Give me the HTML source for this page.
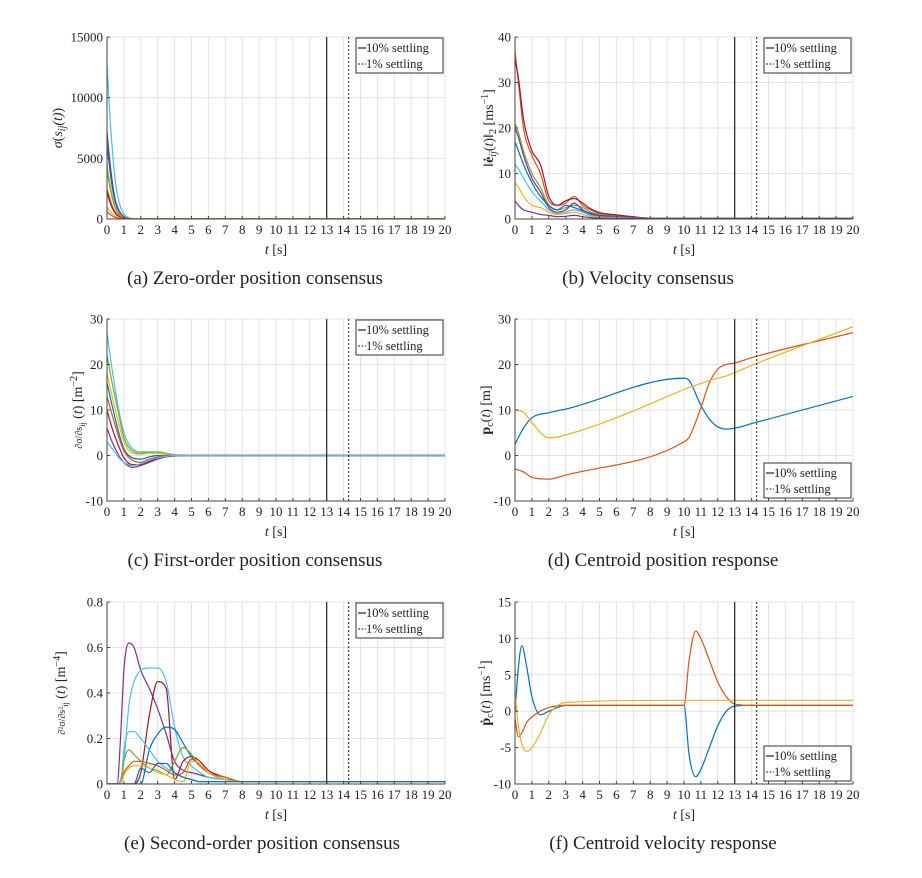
<!DOCTYPE html>
<html><head><meta charset="utf-8">
<style>
html,body{margin:0;padding:0;background:#fff;}
svg{display:block;font-family:"Liberation Serif",serif;}
</style></head>
<body>
<svg id="fig" width="922" height="878" viewBox="0 0 922 878"></svg>
<script>
const tTicks=[0,1,2,3,4,5,6,7,8,9,10,11,12,13,14,15,16,17,18,19,20];
const settle10=13, settle1=14.3;
const C=['#0072BD','#D95319','#EDB120','#7E2F8E','#77AC30','#4DBEEE','#A2142F'];

// (a) zero-order position consensus
const aT=[0,0.15,0.3,0.5,0.75,1,1.3,1.7,20];
const aS=[[12800,9000,6000,3000,1200,400,100,0,0],[7200,5000,3200,1500,600,200,50,0,0],[6200,4300,2700,1300,500,150,40,0,0],[4500,3200,2000,950,380,120,30,0,0],[4000,2800,1800,850,330,100,20,0,0],[2500,1800,1100,550,200,60,10,0,0],[2200,1500,950,450,170,50,10,0,0],[1000,700,450,220,80,20,0,0,0],[600,420,260,120,40,10,0,0,0]];
// (b) velocity consensus
const bT=[0,0.2,0.5,1,1.5,2,2.5,3,3.5,4,4.5,5,6,7,8,20];
const bS=[[37,30,20,14,10,4,3,3.5,5,3,2,1.2,0.8,0.4,0.2,0.1],[35,31,22,15,12,5,3,4,4.5,3.5,2.2,1.4,0.9,0.5,0.2,0.1],[21,19,15,10,7,3,2,2.5,3,2.5,1.5,1,0.6,0.3,0.1,0.1],[20,18,14,9,6,2.5,1.5,2,3.5,2,1.2,0.8,0.5,0.3,0.1,0.1],[17,15,12,8,5,3,2,3,2.5,1.8,1,0.6,0.4,0.2,0.1,0.1],[12,11,9,6,4,2,1.2,1.5,2,1.5,0.8,0.5,0.3,0.2,0.1,0.1],[8,7,5,3,2.5,1.5,1,1.2,1.5,1,0.6,0.4,0.2,0.1,0.1,0.1],[4,3,2,1.5,1,0.8,0.5,0.6,0.8,0.5,0.3,0.2,0.1,0.1,0.1,0.1]];
// (c) first-order position consensus
const cT=[0,0.3,0.7,1,1.5,2,2.5,3,3.5,4,4.5,5,6,20];
const cS=[[27,19,10,5,1.5,0.8,0.8,0.8,0.5,0.2,0,0,0,0],[22,16,9,4,1,0.5,0.7,0.7,0.4,0.1,0,0,0,0],[18,13,7,3,0.5,0.3,0.5,0.5,0.3,0.1,0,0,0,0],[16,11,5,1.5,-0.5,-0.8,-0.3,0,0,0,0,0,0,0],[13,9,4,1,-1,-1.5,-0.8,-0.3,0,0,0,0,0,0],[10,6,2,-0.5,-2,-2,-1.3,-0.6,-0.2,0,0,0,0,0],[6,3,0,-1.5,-2.6,-2.2,-1.5,-0.8,-0.3,-0.1,0,0,0,0],[3,1.5,-0.5,-1.5,-2.2,-1.8,-1,-0.5,-0.2,0,0,0,0,0]];
// (d) centroid position
const dT=[0,0.5,1,2,3,10,10.3,11,11.5,12,12.5,13,14,20];
const dS=[[2.5,6,8.3,9.4,10.2,17,16.5,11,8,6.3,5.8,6,7,13],[-3,-3.6,-4.8,-5.2,-4.3,3,4,10.5,16,19,20,20.3,21.5,27],[10,9.5,7.2,3.9,4.5,14.5,15,15.8,16.5,17,17.5,18.2,19.8,28.3]];
// (e) second-order position consensus
const eT=[0,0.6,0.8,1,1.3,1.6,2,2.5,3,3.5,4,4.5,5,5.5,6,7,8,9,20];
const eS=[[0,0,0.2,0.5,0.62,0.6,0.5,0.42,0.33,0.22,0.1,0.06,0.05,0.04,0.03,0.02,0.01,0.01,0.01],[0,0,0.02,0.1,0.35,0.45,0.5,0.51,0.51,0.45,0.25,0.12,0.08,0.05,0.03,0.02,0.01,0.01,0.01],[0,0,0,0,0,0,0.05,0.3,0.45,0.42,0.02,0.1,0.12,0.1,0.06,0.03,0.01,0.01,0.01],[0,0,0,0,0,0,0,0.15,0.22,0.25,0.24,0.18,0.12,0.08,0.05,0.02,0.01,0.01,0.01],[0,0,0,0.15,0.23,0.23,0.2,0.15,0.1,0.07,0.05,0.03,0.02,0.01,0.01,0.01,0.01,0.01,0.01],[0,0,0,0.1,0.15,0.13,0.1,0.07,0.06,0.04,0.1,0.16,0.13,0.08,0.05,0.03,0.01,0.01,0.01],[0,0,0,0.05,0.08,0.1,0.1,0.09,0.08,0.06,0.04,0.05,0.11,0.08,0.05,0.03,0.01,0.01,0.01],[0,0,0,0.04,0.07,0.08,0.08,0.07,0.05,0.04,0.02,0.01,0.1,0.09,0.05,0.02,0.01,0.01,0.01],[0,0,0,0,0,0,0.07,0.05,0.09,0.09,0.05,0.03,0.02,0.01,0.01,0.01,0.01,0.01,0.01]];
const eColors=[3,5,6,0,5,4,1,2,0];
// (f) centroid velocity
const fT=[0,0.2,0.4,0.7,1,1.5,2,3,10,10.3,10.7,11,11.5,12,12.5,13,14,20];
const fS=[[0,6,9,6,2,-0.5,0,0.8,0.8,-6,-9,-8,-5,-2,0,0.7,0.8,0.8],[-1,-3.5,-3,-1.5,-0.8,0,0.5,0.8,0.8,7,11,10,7,4,2,1,0.8,0.8],[2.5,-2,-4.5,-5.5,-5,-3,-0.5,1.2,1.5,1.5,1.5,1.5,1.5,1.5,1.5,1.5,1.5,1.5]];

const NS='http://www.w3.org/2000/svg';
const svg=document.getElementById('fig');
function el(tag,attrs,parent,txt){const e=document.createElementNS(NS,tag);for(const k in attrs)e.setAttribute(k,attrs[k]);if(txt!==undefined)e.textContent=txt;(parent||svg).appendChild(e);return e;}

// monotone cubic (Fritsch-Carlson) path through pixel points
function smoothPath(pts){
  const n=pts.length, d=[], m=new Array(n);
  for(let i=0;i<n-1;i++){const dx=pts[i+1][0]-pts[i][0];d.push(dx===0?0:(pts[i+1][1]-pts[i][1])/dx);}
  m[0]=d[0];m[n-1]=d[n-2];
  for(let i=1;i<n-1;i++){m[i]=(d[i-1]*d[i]<=0)?0:(d[i-1]+d[i])/2;}
  for(let i=0;i<n-1;i++){
    if(d[i]===0){m[i]=0;m[i+1]=0;continue;}
    const a=m[i]/d[i],b=m[i+1]/d[i],s=a*a+b*b;
    if(s>9){const t=3/Math.sqrt(s);m[i]=t*a*d[i];m[i+1]=t*b*d[i];}
  }
  let p='M'+pts[0][0].toFixed(1)+','+pts[0][1].toFixed(1);
  for(let i=0;i<n-1;i++){
    const h=(pts[i+1][0]-pts[i][0])/3;
    p+='C'+(pts[i][0]+h).toFixed(1)+','+(pts[i][1]+m[i]*h).toFixed(1)+' '+(pts[i+1][0]-h).toFixed(1)+','+(pts[i+1][1]-m[i+1]*h).toFixed(1)+' '+pts[i+1][0].toFixed(1)+','+pts[i+1][1].toFixed(1);
  }
  return p;
}

function panel(cfg){
  const g=el('g',{},svg);
  
  
  const L=cfg.L,R=cfg.L+338,T=cfg.T,B=cfg.T+182;
  const xs=t=>L+(t-0)/20*(R-L);
  const ys=v=>B-(v-cfg.ymin)/(cfg.ymax-cfg.ymin)*(B-T);
  tTicks.forEach(t=>{const l=el('line',{x1:xs(t),x2:xs(t),y1:T,y2:B,stroke:'#e3e3e3','stroke-width':1},g);});
  cfg.yTicks.forEach(v=>{const l=el('line',{x1:L,x2:R,y1:ys(v),y2:ys(v),stroke:'#e3e3e3','stroke-width':1},g);});
  const clip='clip-'+cfg.name;
  const cp=el('clipPath',{id:clip},g);el('rect',{x:L,y:T,width:R-L,height:B-T},cp);
  cfg.series.forEach((s,i)=>{
    const pts=cfg.t.map((t,j)=>[xs(t),ys(s[j])]);
    const col=cfg.colors?C[cfg.colors[i]]:C[i%C.length];
    const p=el('path',{d:smoothPath(pts),fill:'none',stroke:col,'stroke-width':1.2,'clip-path':'url(#'+clip+')'},g);
    
    
  });
  const s1=el('line',{x1:xs(settle10),x2:xs(settle10),y1:T,y2:B,stroke:'#222','stroke-width':1.2},g);
  
  const s2=el('line',{x1:xs(settle1),x2:xs(settle1),y1:T,y2:B,stroke:'#222','stroke-width':1,'stroke-dasharray':'2,2'},g);
  
  const ax=el('path',{d:`M${L},${T}V${B}H${R}`,fill:'none',stroke:'#444','stroke-width':1},g);
  
  tTicks.forEach(t=>{el('line',{x1:xs(t),x2:xs(t),y1:B,y2:B-3,stroke:'#444'},g);
    const tx=el('text',{x:xs(t),y:B+15,'text-anchor':'middle','font-size':13,fill:'#222'},g,String(t));
    });
  cfg.yTicks.forEach((v,i)=>{el('line',{x1:L,x2:L+3,y1:ys(v),y2:ys(v),stroke:'#444'},g);
    const tx=el('text',{x:L-4,y:ys(v)+4.5,'text-anchor':'end','font-size':13,fill:'#222'},g,cfg.yLabels[i]);
    });
  const xl=el('text',{x:(L+R)/2,y:B+35,'text-anchor':'middle','font-size':14,fill:'#222'},g);
  
  el('tspan',{'font-style':'italic'},xl,'t');el('tspan',{},xl,' [s]');
  const yl=el('text',{x:0,y:0,transform:`translate(${cfg.ylx},${(T+B)/2}) rotate(-90)`,'text-anchor':'middle','font-size':14,fill:'#222'},g);
  
  yl.innerHTML=cfg.ylabel;
  const lx=R-89,ly=cfg.legBottom?B-38:T+1;
  const lg=el('g',{},g);
  el('rect',{x:lx,y:ly,width:87,height:35,fill:'#fff',stroke:'#333','stroke-width':1},lg);
  el('line',{x1:lx+2,x2:lx+10,y1:ly+10,y2:ly+10,stroke:'#222','stroke-width':1.2},lg);
  el('line',{x1:lx+2,x2:lx+10,y1:ly+26,y2:ly+26,stroke:'#222','stroke-dasharray':'2,1.5'},lg);
  const e1=el('text',{x:lx+10,y:ly+14,'font-size':12.5,fill:'#222'},lg,'10% settling');
  
  const e2=el('text',{x:lx+10,y:ly+30,'font-size':12.5,fill:'#222'},lg,'1% settling');
  
  const cap=el('text',{x:cfg.capx,y:B+65,'text-anchor':'middle','font-size':19,fill:'#222'},g,cfg.caption);
  
}

panel({name:'panel-a',L:107,T:37,ymin:0,ymax:15000,yTicks:[0,5000,10000,15000],yLabels:['0','5000','10000','15000'],t:aT,series:aS,colors:[5,3,0,2,4,1,6,2,1],ylx:62,ylabel:'<tspan font-style="italic">σ</tspan>(<tspan font-style="italic">s<tspan font-size="10" dy="3">ij</tspan><tspan dy="-3">(t)</tspan></tspan>)',caption:'(a) Zero-order position consensus',capx:255});
panel({name:'panel-b',L:515,T:37,ymin:0,ymax:40,yTicks:[0,10,20,30,40],yLabels:['0','10','20','30','40'],t:bT,series:bS,colors:[1,6,4,3,0,5,2,3],ylx:493,ylabel:'‖<tspan font-weight="bold">ė</tspan><tspan font-style="italic" font-size="10" dy="3">ij</tspan><tspan dy="-3">(<tspan font-style="italic">t</tspan>)‖</tspan><tspan font-size="10" dy="3">2</tspan><tspan dy="-3"> [ms</tspan><tspan font-size="10" dy="-5">−1</tspan><tspan dy="5">]</tspan>',caption:'(b) Velocity consensus',capx:648});
panel({name:'panel-c',L:107,T:319,ymin:-10,ymax:30,yTicks:[-10,0,10,20,30],yLabels:['-10','0','10','20','30'],t:cT,series:cS,colors:[5,4,2,0,1,6,3,5],ylx:82,ylabel:'<tspan font-size="10">∂σ/∂s</tspan><tspan font-size="8" dy="3">ij</tspan><tspan dy="-3"> (<tspan font-style="italic">t</tspan>) [m</tspan><tspan font-size="10" dy="-5">−2</tspan><tspan dy="5">]</tspan>',caption:'(c) First-order position consensus',capx:255});
panel({name:'panel-d',L:515,T:319,ymin:-10,ymax:30,yTicks:[-10,0,10,20,30],yLabels:['-10','0','10','20','30'],t:dT,series:dS,ylx:490,legBottom:true,ylabel:'<tspan font-weight="bold">p</tspan><tspan font-size="10" dy="3">c</tspan><tspan dy="-3">(<tspan font-style="italic">t</tspan>) [m]</tspan>',caption:'(d) Centroid position response',capx:663});
panel({name:'panel-e',L:107,T:602,ymin:0,ymax:0.8,yTicks:[0,0.2,0.4,0.6,0.8],yLabels:['0','0.2','0.4','0.6','0.8'],t:eT,series:eS,colors:eColors,ylx:65,ylabel:'<tspan font-size="10">∂²σ/∂s²</tspan><tspan font-size="8" dy="3">ij</tspan><tspan dy="-3"> (<tspan font-style="italic">t</tspan>) [m</tspan><tspan font-size="10" dy="-5">−4</tspan><tspan dy="5">]</tspan>',caption:'(e) Second-order position consensus',capx:262});
panel({name:'panel-f',L:515,T:602,ymin:-10,ymax:15,yTicks:[-10,-5,0,5,10,15],yLabels:['-10','-5','0','5','10','15'],t:fT,series:fS,ylx:490,legBottom:true,ylabel:'<tspan font-weight="bold">ṗ</tspan><tspan font-size="10" dy="3">c</tspan><tspan dy="-3">(<tspan font-style="italic">t</tspan>) [ms</tspan><tspan font-size="10" dy="-5">−1</tspan><tspan dy="5">]</tspan>',caption:'(f) Centroid velocity response',capx:663});
</script>
</body></html>
